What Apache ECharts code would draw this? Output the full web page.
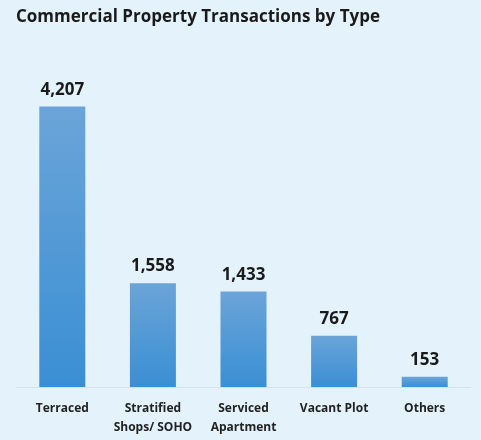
<!DOCTYPE html>
<html><head><meta charset="utf-8">
<script src="https://cdn.jsdelivr.net/npm/echarts@6/dist/echarts.min.js"></script>
<style>html,body{margin:0;padding:0;background:#e4f3fb;}#c{width:481px;height:440px;}</style>
</head><body><div id="c"></div>
<script>
const title = 'Commercial Property Transactions by Type';
const categories = ['Terraced', 'Stratified\nShops/ SOHO', 'Serviced\nApartment', 'Vacant Plot', 'Others'];
const values = [4207, 1558, 1433, 767, 153];

const chart = echarts.init(document.getElementById('c'));
chart.setOption({
  backgroundColor: '#e4f3fb',
  animation: false,
  title: {
    text: title, left: 11, top: 4,
    textStyle: { fontFamily: 'Open Sans', fontWeight: 'bold', fontSize: 17, color: '#1a1a1a' }
  },
  grid: { left: 17, right: 11, top: 87, bottom: 53 },
  xAxis: {
    type: 'category', data: categories,
    axisLine: { lineStyle: { color: '#d4e2ea', width: 1 } },
    axisTick: { show: false },
    axisLabel: { interval: 0, fontFamily: 'Open Sans', fontWeight: 'bold', fontSize: 12, color: '#222', lineHeight: 19, margin: 12 }
  },
  yAxis: { type: 'value', min: 0, max: 4500, show: false, splitLine: { show: false } },
  series: [{
    type: 'bar', data: values, barWidth: 46,
    itemStyle: {
      color: new echarts.graphic.LinearGradient(0, 0, 0, 1, [
        { offset: 0, color: '#6ba4d8' }, { offset: 1, color: '#3a8fd4' }
      ])
    },
    label: {
      show: true, position: 'top', distance: 8,
      formatter: p => p.value.toLocaleString('en-US'),
      fontFamily: 'Open Sans', fontWeight: 'bold', fontSize: 17, color: '#1a1a1a'
    }
  }]
});
</script></body></html>
